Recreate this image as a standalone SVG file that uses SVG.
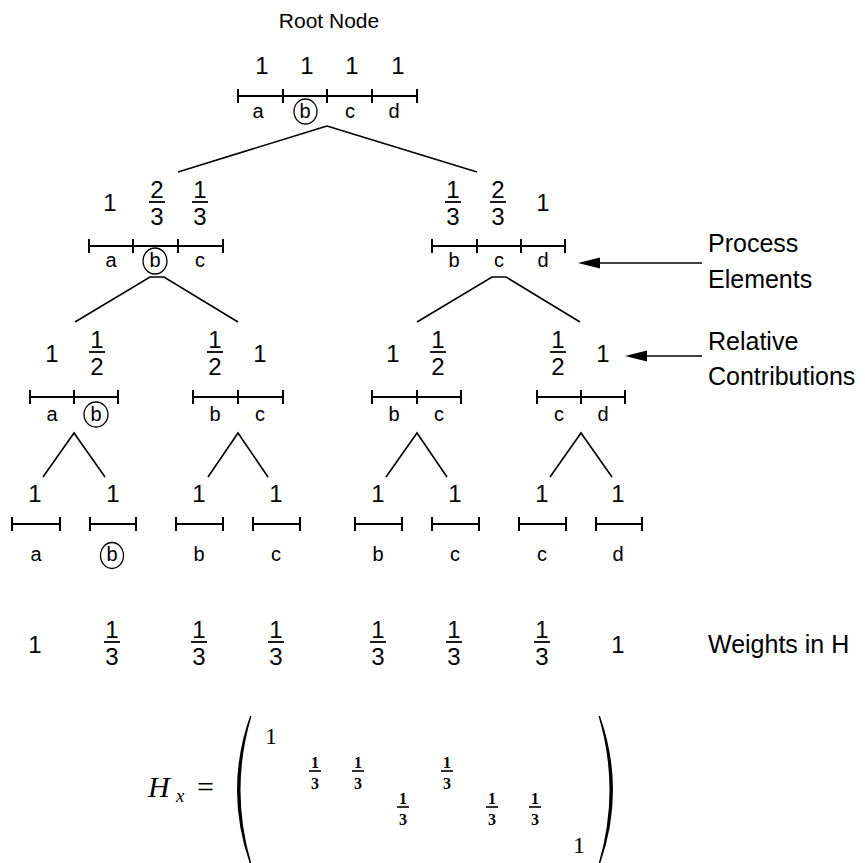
<svg xmlns="http://www.w3.org/2000/svg" width="865" height="863" viewBox="0 0 865 863">
<style>
text{font-family:"Liberation Sans",Arial,sans-serif;fill:#000}
.t{font-size:21px}
.n{font-size:24px;text-anchor:middle}
.f{font-size:24px;text-anchor:middle}
.l{font-size:20px;text-anchor:middle}
.s{font-size:25px}
.seg{stroke:#000;stroke-width:2;fill:none}
.bar{stroke:#000;stroke-width:1.8}
.c{fill:none;stroke:#000;stroke-width:1.3}
.con{stroke:#000;stroke-width:1.6;fill:none}
.m{font-family:"Liberation Serif","Times New Roman",serif}
.mf{font-family:"Liberation Serif",serif;font-size:16px;font-weight:bold;text-anchor:middle}
</style>
<defs>
<g id="f13"><text class="f" y="-4">1</text><line class="bar" x1="-8" x2="8" y1="0" y2="0"/><text class="f" y="23">3</text></g>
<g id="f23"><text class="f" y="-4">2</text><line class="bar" x1="-8" x2="8" y1="0" y2="0"/><text class="f" y="23">3</text></g>
<g id="f12"><text class="f" y="-4">1</text><line class="bar" x1="-8" x2="8" y1="0" y2="0"/><text class="f" y="23">2</text></g>
<g id="m13"><text class="mf" y="-3">1</text><line stroke="#000" stroke-width="1.6" x1="-6" x2="6" y1="0" y2="0"/><text class="mf" y="18">3</text></g>
</defs>

<text class="t" x="329" y="28" text-anchor="middle">Root Node</text>

<g id="connectors">
<path class="con" d="M327 126 L178 172 M327 126 L477 172"/>
<path class="con" d="M75 322 L150 277 H164 L238 322"/>
<path class="con" d="M417 322 L492 277 H506 L580 322"/>
<path class="con" d="M43 477 L74 433 L105 477"/>
<path class="con" d="M208 477 L238 433 L268 477"/>
<path class="con" d="M386 477 L417 433 L447 477"/>
<path class="con" d="M550 477 L581 433 L612 477"/>
<path class="con" d="M702 263 H596"/>
<polygon points="578,263 600,257.5 600,268.5"/>
<path class="con" d="M702 356 H643"/>
<polygon points="625,356 647,350.5 647,361.5"/>
</g>

<g id="root">
<text class="n" x="262" y="74">1</text><text class="n" x="307" y="74">1</text><text class="n" x="352" y="74">1</text><text class="n" x="398" y="74">1</text>
<path class="seg" d="M238 96 H417 M238 89 V103 M283 89 V103 M327 89 V103 M372 89 V103 M417 89 V103"/>
<text class="l" x="258" y="118">a</text><text class="l" x="305" y="118">b</text><text class="l" x="350" y="118">c</text><text class="l" x="394" y="118">d</text>
<ellipse class="c" cx="305.5" cy="111.5" rx="11.5" ry="12.5"/>
</g>

<g id="node-abc">
<text class="n" x="110" y="211">1</text>
<use href="#f23" x="157" y="202"/><use href="#f13" x="200" y="202"/>
<path class="seg" d="M89 246 H223 M89 239 V253 M133 239 V253 M178 239 V253 M223 239 V253"/>
<text class="l" x="111" y="267">a</text><text class="l" x="155" y="267">b</text><text class="l" x="200" y="267">c</text>
<ellipse class="c" cx="155" cy="261" rx="12" ry="13"/>
</g>

<g id="node-bcd">
<use href="#f13" x="453" y="202"/><use href="#f23" x="498" y="202"/>
<text class="n" x="543" y="211">1</text>
<path class="seg" d="M432 246 H565 M432 239 V253 M477 239 V253 M521 239 V253 M565 239 V253"/>
<text class="l" x="454" y="267">b</text><text class="l" x="499" y="267">c</text><text class="l" x="543" y="267">d</text>
</g>

<g id="node-ab">
<text class="n" x="52" y="362">1</text><use href="#f12" x="97" y="352"/>
<path class="seg" d="M30 397 H118 M30 390 V404 M74 390 V404 M118 390 V404"/>
<text class="l" x="52" y="421">a</text><text class="l" x="96" y="421">b</text>
<ellipse class="c" cx="96" cy="414.5" rx="12" ry="12.5"/>
</g>

<g id="node-bc-1">
<use href="#f12" x="215" y="352"/><text class="n" x="260" y="362">1</text>
<path class="seg" d="M193 397 H283 M193 390 V404 M238 390 V404 M283 390 V404"/>
<text class="l" x="215" y="421">b</text><text class="l" x="260" y="421">c</text>
</g>

<g id="node-bc-2">
<text class="n" x="393" y="362">1</text><use href="#f12" x="438" y="352"/>
<path class="seg" d="M372 397 H461 M372 390 V404 M417 390 V404 M461 390 V404"/>
<text class="l" x="394" y="421">b</text><text class="l" x="439" y="421">c</text>
</g>

<g id="node-cd">
<use href="#f12" x="558" y="352"/><text class="n" x="603" y="362">1</text>
<path class="seg" d="M537 397 H625 M537 390 V404 M581 390 V404 M625 390 V404"/>
<text class="l" x="559" y="421">c</text><text class="l" x="603" y="421">d</text>
</g>

<g id="leaf-a"><text class="n" x="35" y="502">1</text><path class="seg" d="M12 524 H60 M12 517 V531 M60 517 V531"/><text class="l" x="36" y="561">a</text></g>
<g id="leaf-b1"><text class="n" x="113" y="502">1</text><path class="seg" d="M90 524 H136 M90 517 V531 M136 517 V531"/><text class="l" x="112" y="561">b</text><ellipse class="c" cx="112" cy="555.5" rx="11.5" ry="13"/></g>
<g id="leaf-b2"><text class="n" x="199" y="502">1</text><path class="seg" d="M176 524 H223 M176 517 V531 M223 517 V531"/><text class="l" x="199" y="561">b</text></g>
<g id="leaf-c1"><text class="n" x="276" y="502">1</text><path class="seg" d="M253 524 H300 M253 517 V531 M300 517 V531"/><text class="l" x="276" y="561">c</text></g>
<g id="leaf-b3"><text class="n" x="378" y="502">1</text><path class="seg" d="M355 524 H402 M355 517 V531 M402 517 V531"/><text class="l" x="378" y="561">b</text></g>
<g id="leaf-c2"><text class="n" x="455" y="502">1</text><path class="seg" d="M432 524 H479 M432 517 V531 M479 517 V531"/><text class="l" x="455" y="561">c</text></g>
<g id="leaf-c3"><text class="n" x="542" y="502">1</text><path class="seg" d="M519 524 H566 M519 517 V531 M566 517 V531"/><text class="l" x="542" y="561">c</text></g>
<g id="leaf-d"><text class="n" x="618" y="502">1</text><path class="seg" d="M596 524 H642 M596 517 V531 M642 517 V531"/><text class="l" x="618" y="561">d</text></g>

<g id="weights">
<text class="n" x="35" y="653">1</text>
<use href="#f13" x="112" y="642"/><use href="#f13" x="199" y="642"/><use href="#f13" x="276" y="642"/>
<use href="#f13" x="378" y="642"/><use href="#f13" x="454" y="642"/><use href="#f13" x="542" y="642"/>
<text class="n" x="618" y="653">1</text>
</g>

<g id="labels">
<text class="s" x="708" y="252">Process</text>
<text class="s" x="708" y="288">Elements</text>
<text class="s" x="708" y="350">Relative</text>
<text class="s" x="708" y="385">Contributions</text>
<text class="s" x="708" y="653">Weights in H</text>
</g>

<g id="matrix">
<text class="m" x="148" y="797" font-size="30" font-style="italic">H</text>
<text class="m" x="176" y="802" font-size="19" font-style="italic">x</text>
<text class="m" x="197" y="797" font-size="30">=</text>
<path d="M250 716 Q224 790 250 864 L251.5 864 Q229.5 790 251.5 716 Z"/>
<path d="M600 716 Q626 790 600 864 L598.5 864 Q620.5 790 598.5 716 Z"/>
<text class="m" x="271" y="744" font-size="24" text-anchor="middle">1</text>
<use href="#m13" x="315" y="771"/><use href="#m13" x="358" y="771"/><use href="#m13" x="447" y="771"/>
<use href="#m13" x="403" y="807"/><use href="#m13" x="492" y="807"/><use href="#m13" x="535" y="807"/>
<text class="m" x="579" y="853" font-size="24" text-anchor="middle">1</text>
</g>
</svg>
